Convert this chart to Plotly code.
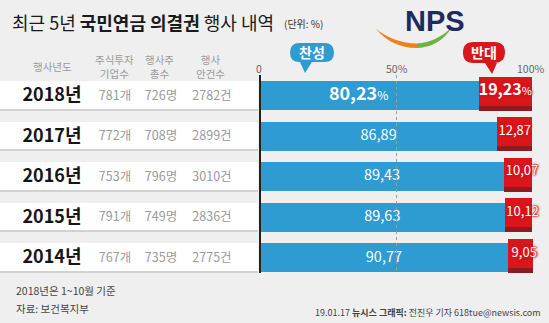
import plotly.graph_objects as go

# ---------------- data ----------------
years = ["2018년", "2017년", "2016년", "2015년", "2014년"]
companies = ["781개", "772개", "753개", "791개", "767개"]
meetings = ["726명", "708명", "796명", "749명", "735명"]
agendas = ["2782건", "2899건", "3010건", "2836건", "2775건"]
favor = [80.23, 86.89, 89.43, 89.63, 90.77]
against = [19.23, 12.87, 10.07, 10.12, 9.05]
axis_ticks = [0, 50, 100]
axis_tick_labels = ["0", "50%", "100%"]

W, H = 549, 323
FONT = "Noto Sans CJK KR"
BLUE = "#2f9bd3"
RED = "#d8161c"
DARKRED = "#8c1c20"
BG = "#efefef"

# pixel geometry helpers (layout only)
X0PX = 260.0      # pixel of 0 %
PXPER = 2.73      # pixels per percent
ROW0 = 95.5       # pixel centre of first row
PITCH = 40.6      # pixels between rows


def xd(px):
    return (px - X0PX) / PXPER


def dy(px):
    return px / PITCH


def fmt(v):
    return f"{v:.2f}".replace(".", ",")


rows = list(range(len(years)))
xmin, xmax = xd(0), xd(W)
ymin, ymax = -ROW0 / PITCH, (H - ROW0) / PITCH

fig = go.Figure()

# table bands (shadow + white)
fig.add_trace(go.Bar(orientation="h", y=rows, base=[xmin] * len(rows),
                     x=[xd(258) - xmin] * len(rows), width=dy(2.5), offset=dy(12.5),
                     marker=dict(color="#d2d2d2", line_width=0), hoverinfo="skip"))
fig.add_trace(go.Bar(orientation="h", y=rows, base=[xmin] * len(rows),
                     x=[xd(258) - xmin] * len(rows), width=dy(27.5), offset=-dy(14.5),
                     marker=dict(color="#ffffff", line_width=0), hoverinfo="skip"))

# favour bars
fig.add_trace(go.Bar(orientation="h", y=rows, x=favor, base=[0] * len(rows),
                     width=dy(29), offset=-dy(14.5),
                     marker=dict(color=BLUE, line_width=0), hoverinfo="skip"))
# against bars (dark bottom strip + red)
fig.add_trace(go.Bar(orientation="h", y=rows, x=against, base=favor,
                     width=dy(34), offset=-dy(19),
                     marker=dict(color=DARKRED, line_width=0), hoverinfo="skip"))
fig.add_trace(go.Bar(orientation="h", y=rows, x=against, base=favor,
                     width=dy(29), offset=-dy(19),
                     marker=dict(color=RED, line_width=0), hoverinfo="skip"))

# labels in bars
blue_txt = []
red_txt = []
for i in rows:
    if i == 0:
        blue_txt.append(f"<b>{fmt(favor[i])}</b><span style='font-size:12px'>%</span>")
        red_txt.append(f"<b>{fmt(against[i])}</b><span style='font-size:11px'>%</span>")
    else:
        blue_txt.append(fmt(favor[i]))
        red_txt.append(fmt(against[i]))
blue_sizes = [18 if i == 0 else 14.5 for i in rows]
red_sizes = [16 if i == 0 else 13 for i in rows]

fig.add_trace(go.Scatter(x=[v / 2 - (4 if i == 0 else 0) for i, v in enumerate(favor)], y=rows,
                         mode="text", text=blue_txt,
                         textfont=dict(family=FONT, size=blue_sizes, color="white"),
                         hoverinfo="skip"))
fig.add_trace(go.Scatter(x=[f + a / 2 + (1.5 if i > 1 else 0) for i, (f, a) in enumerate(zip(favor, against))],
                         y=[i - dy(4.5) for i in rows], mode="text", text=red_txt,
                         textfont=dict(family=FONT, size=red_sizes, color="white",
                                       shadow="0px 0px 1px #d8161c, 0px 0px 2px #d8161c, 0px 0px 3px #d8161c, 1px 0px 2px #d8161c"),
                         cliponaxis=False, hoverinfo="skip"))

# table columns
fig.add_trace(go.Scatter(x=[xd(52)] * len(rows), y=[i + dy(1) for i in rows], mode="text",
                         text=[f"<b>{y}</b>" for y in years],
                         textfont=dict(family=FONT, size=18, color="#151515"), hoverinfo="skip"))
for col, cx in ((companies, 115), (meetings, 161), (agendas, 212)):
    fig.add_trace(go.Scatter(x=[xd(cx)] * len(rows), y=[i + dy(1) for i in rows], mode="text",
                             text=col, textfont=dict(family=FONT, size=12.5, color="#9a9a9a"),
                             hoverinfo="skip"))

# axis line and 50% dashed line
shapes = [
    dict(type="line", xref="x", yref="y", x0=0, x1=0, y0=-dy(20.5), y1=len(rows) - 1 + dy(15),
         line=dict(color="#222222", width=2)),
    dict(type="line", xref="x", yref="y", x0=50, x1=50, y0=-dy(20.5), y1=len(rows) - 1 + dy(15),
         line=dict(color="#9a9a9a", width=1, dash="3px,3px"), layer="above"),
]


def P(x, y):
    return f"{x / W:.5f},{1 - y / H:.5f}"


def bubble(x0, x1, y0, y1, tipx, tipy, b0, b1):
    r = (y1 - y0) / 2
    return ("M " + P(x0 + r, y0) + " L " + P(x1 - r, y0) +
            " Q " + P(x1, y0) + " " + P(x1, y0 + r) +
            " Q " + P(x1, y1) + " " + P(x1 - r, y1) +
            " L " + P(b1, y1) + " L " + P(tipx, tipy) + " L " + P(b0, y1) +
            " L " + P(x0 + r, y1) +
            " Q " + P(x0, y1) + " " + P(x0, y0 + r) +
            " Q " + P(x0, y0) + " " + P(x0 + r, y0) + " Z")


shapes.append(dict(type="path", xref="paper", yref="paper",
                   path=bubble(290, 334, 43, 62, 305, 73, 300, 312),
                   fillcolor="#2f9bd3", line=dict(width=0)))
shapes.append(dict(type="path", xref="paper", yref="paper",
                   path=bubble(463, 505, 42, 63, 492, 74, 485, 497),
                   fillcolor="#d8161c", line=dict(width=0)))

# NPS swoosh
shapes.append(dict(type="path", xref="paper", yref="paper",
                   path="M " + P(376, 29) + " Q " + P(392, 48) + " " + P(417, 48) +
                        " L " + P(417, 43.5) + " Q " + P(394, 43) + " " + P(376, 29) + " Z",
                   fillcolor="#f0801c", line=dict(width=0)))
shapes.append(dict(type="path", xref="paper", yref="paper",
                   path="M " + P(417, 48) + " Q " + P(440, 47) + " " + P(452, 27) +
                        " Q " + P(437, 42) + " " + P(417, 43.5) + " Z",
                   fillcolor="#6cb33f", line=dict(width=0)))

annotations = []


def ann(x, y, text, size, color="#222", xanchor="center", family=FONT):
    annotations.append(dict(x=x / W, y=1 - y / H, xref="paper", yref="paper", text=text,
                            showarrow=False, xanchor=xanchor, yanchor="middle",
                            font=dict(family=family, size=size, color=color)))


# title
ann(10, 22, "최근 5년 <b>국민연금 의결권</b> 행사 내역", 18, "#1a1a1a", "left")
ann(282, 24, "(단위: %)", 10, "#333", "left")
# logo text
ann(435, 21, "<b>NPS</b>", 29, "#1e2b5e", "center", "Liberation Sans")
# bubble labels
ann(312, 52, "<b>찬성</b>", 14, "white")
ann(484, 52, "<b>반대</b>", 14, "white")
# headers
ann(52, 66, "행사년도", 10.5, "#9a9a9a")
for hx, htxt in ((114, "주식투자<br>기업수"), (159, "행사주<br>총수"), (210, "행사<br>안건수")):
    annotations.append(dict(x=hx / W, y=1 - 66.5 / H, xref="paper", yref="paper", text=htxt,
                            showarrow=False, xanchor="center", yanchor="middle",
                            font=dict(family=FONT, size=10.5, color="#9a9a9a")))
# axis tick labels
tick_px = [259, 397, 530]
for t, lab, tp in zip(axis_ticks, axis_tick_labels, tick_px):
    ann(tp, 68, lab, 10.5, "#666")
# footer
ann(14, 290, "2018년은 1~10월 기준", 10.5, "#444", "left")
ann(14, 308, "자료: 보건복지부", 10.5, "#444", "left")
annotations.append(dict(x=543 / W, y=1 - 312 / H, xref="paper", yref="paper",
                        text="19.01.17 <b>뉴시스 그래픽:</b> 전진우 기자 618tue@newsis.com",
                        showarrow=False, xanchor="right", yanchor="middle",
                        font=dict(family=FONT, size=9, color="#444")))

fig.update_layout(
    width=W, height=H, margin=dict(l=0, r=0, t=0, b=0),
    paper_bgcolor=BG, plot_bgcolor="rgba(0,0,0,0)",
    showlegend=False, barmode="overlay", bargap=0,
    xaxis=dict(range=[xmin, xmax], visible=False, fixedrange=True),
    yaxis=dict(range=[ymax, ymin], visible=False, fixedrange=True),
    shapes=shapes, annotations=annotations,
)

fig.write_html("out.html", config={"displayModeBar": False})
